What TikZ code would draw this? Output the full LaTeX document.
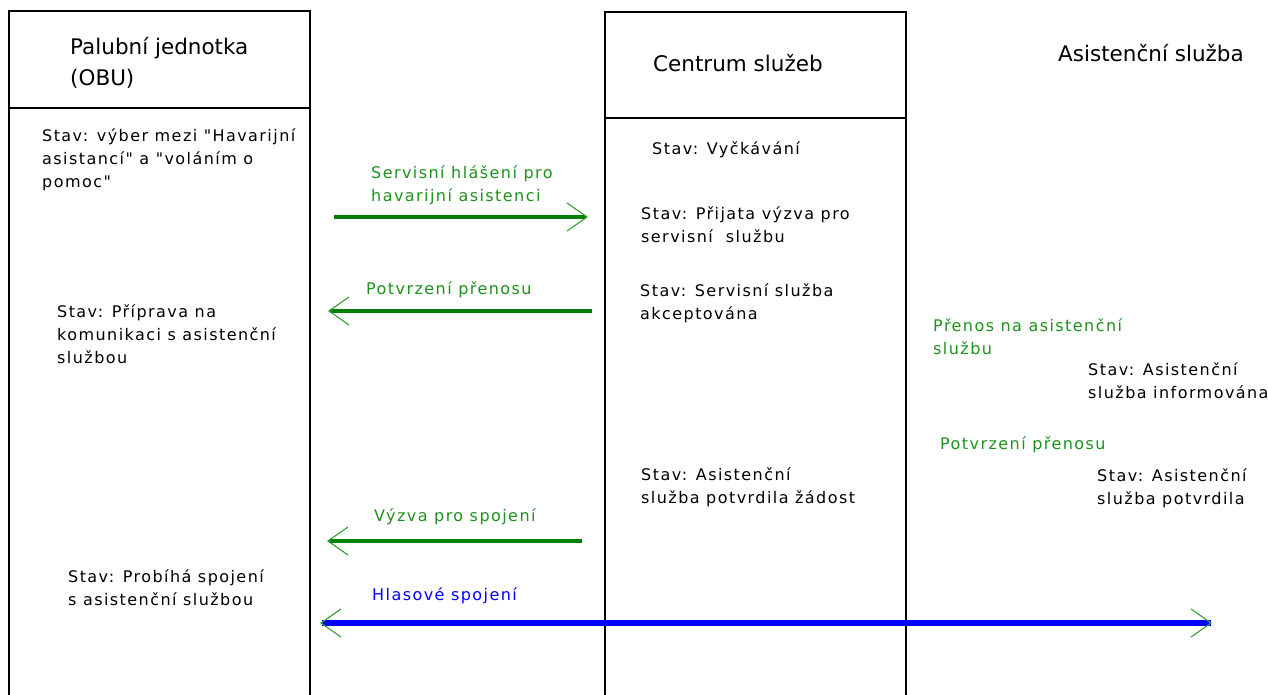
\documentclass[tikz,border=0pt]{standalone}
\usepackage{fontspec}
\setmainfont{DejaVu Sans}
\newfontfamily\headfont{DejaVu Sans}
\newfontfamily\bodyfont[LetterSpace=9]{DejaVu Sans}
\usetikzlibrary{arrows.meta}
\definecolor{msggreen}{RGB}{30,145,30}
\definecolor{linegreen}{RGB}{0,128,0}
\definecolor{tipgreen}{RGB}{50,160,50}
\definecolor{voiceblue}{RGB}{0,0,255}
\tikzset{
  lifeline/.style={draw=black, line width=2pt},
  % multi-line nodes: the base anchor sits on the last line
  headtext/.style={anchor=base west, inner sep=0pt, align=left,
    font=\headfont\fontsize{21.5}{31}\selectfont},
  statetext/.style={anchor=base west, inner sep=0pt, align=left,
    font=\bodyfont\fontsize{16}{23}\selectfont},
  msgtext/.style={statetext, text=msggreen},
  msgline/.style={draw=linegreen, line width=4pt, -{Straight Barb[length=20pt, width=28pt, line width=1.1pt, color=tipgreen]}},
  voiceline/.style={draw=voiceblue, line width=6.5pt,
    {Straight Barb[length=20pt, width=28pt, line width=1.1pt, color=tipgreen]}-{Straight Barb[length=20pt, width=28pt, line width=1.1pt, color=tipgreen]}}
}
\begin{document}
\begin{tikzpicture}[x=1pt, y=-1pt]
\useasboundingbox (0,0) rectangle (1268,695);
\fill[white] (0,0) rectangle (1268,695);

% lifelines of the on-board unit and the service centre
\draw[lifeline] (9,695) -- (9,11) -- (310,11) -- (310,695);
\draw[lifeline] (9,108) -- (310,108);
\draw[lifeline] (605,695) -- (605,12) -- (906,12) -- (906,695);
\draw[lifeline] (605,118) -- (906,118);

% headers
\node[headtext] (obu) at (70,86) {Palubní jednotka\\(OBU)};
\node[headtext] (centrum) at (653,72) {Centrum služeb};
\node[headtext] (asist) at (1058,62) {Asistenční služba};

% states of the on-board unit
\node[statetext] (obu1) at (42,187) {Stav: výber mezi "Havarijní\\asistancí" a "voláním o\\pomoc"};
\node[statetext] (obu2) at (57,363) {Stav: Příprava na\\komunikaci s asistenční\\službou};
\node[statetext] (obu3) at (68,605) {Stav: Probíhá spojení\\s asistenční službou};

% states of the service centre
\node[statetext] (sc1) at (652,155) {Stav: Vyčkávání};
\node[statetext] (sc2) at (641,242) {Stav: Přijata výzva pro\\servisní\ \ službu};
\node[statetext] (sc3) at (640,319) {Stav: Servisní služba\\akceptována};
\node[statetext] (sc4) at (641,503) {Stav: Asistenční\\služba potvrdila žádost};

% states of the assistance service
\node[statetext] (as1) at (1088,398) {Stav: Asistenční\\služba informována};
\node[statetext] (as2) at (1097,504) {Stav: Asistenční\\služba potvrdila};

% message labels
\node[msgtext] (m1) at (371,201) {Servisní hlášení pro\\havarijní asistenci};
\node[msgtext] (m2) at (366,294) {Potvrzení přenosu};
\node[msgtext] (m3) at (933,354) {Přenos na asistenční\\službu};
\node[msgtext] (m4) at (940,449) {Potvrzení přenosu};
\node[msgtext] (m5) at (374,521) {Výzva pro spojení};
\node[statetext, text=voiceblue] (m6) at (372,600) {Hlasové spojení};

% message end points
\coordinate (m1a) at (334,217);
\coordinate (m1b) at (588,217);
\coordinate (m2a) at (592,311);
\coordinate (m2b) at (328,311);
\coordinate (m5a) at (582,541);
\coordinate (m5b) at (327,541);
\coordinate (v1) at (320,623);
\coordinate (v2) at (1212,623);

\draw[msgline] (m1a) -- (m1b);
\draw[msgline] (m2a) -- (m2b);
\draw[msgline] (m5a) -- (m5b);
\draw[voiceline] (v1) -- (v2);
\end{tikzpicture}
\end{document}
